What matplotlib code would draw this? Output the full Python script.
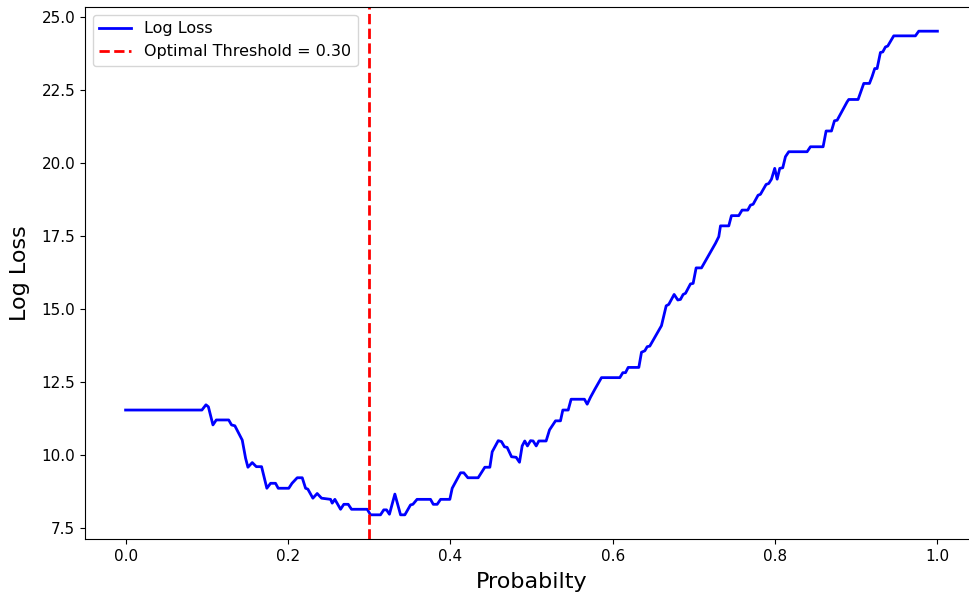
import numpy as np
import matplotlib.pyplot as plt

# vertices of the log-loss curve
prob = [0.0, 0.094, 0.099, 0.102, 0.1076, 0.1117, 0.127, 0.1305, 0.1346,
        0.1437, 0.1478, 0.1507, 0.156, 0.161, 0.1675, 0.174, 0.1786, 0.1847,
        0.188, 0.201, 0.205, 0.2114, 0.2176, 0.2217, 0.2245, 0.2307, 0.236,
        0.2414, 0.2525, 0.2545, 0.2578, 0.2648, 0.2688, 0.2742, 0.2783,
        0.2976, 0.3017, 0.314, 0.318, 0.3214, 0.325, 0.3317, 0.3387, 0.344,
        0.351, 0.3539, 0.359, 0.3756, 0.379, 0.3838, 0.388, 0.3994, 0.4023,
        0.4126, 0.4166, 0.4216, 0.4343, 0.4425, 0.4487, 0.4516, 0.459,
        0.463, 0.4667, 0.47, 0.4754, 0.4811, 0.4852, 0.4885, 0.4917, 0.495,
        0.4988, 0.502, 0.5058, 0.509, 0.518, 0.5222, 0.5296, 0.5357, 0.5386,
        0.5452, 0.5488, 0.5652, 0.5686, 0.5727, 0.578, 0.5862, 0.6088,
        0.6125, 0.6158, 0.6191, 0.6322, 0.6355, 0.6396, 0.6425, 0.6457,
        0.6601, 0.6659, 0.6691, 0.6757, 0.6802, 0.6835, 0.6868, 0.6897,
        0.6958, 0.6991, 0.7028, 0.7094, 0.7266, 0.7307, 0.7328, 0.743,
        0.7463, 0.7553, 0.7594, 0.7664, 0.7697, 0.773, 0.7791, 0.782, 0.789,
        0.7922, 0.7956, 0.7996, 0.8026, 0.8058, 0.8095, 0.8128, 0.8169,
        0.8395, 0.8436, 0.8592, 0.8629, 0.8695, 0.8732, 0.8765, 0.8888,
        0.8908, 0.9023, 0.9093, 0.9163, 0.9195, 0.9228, 0.9257, 0.9298,
        0.9327, 0.936, 0.9388, 0.9462, 0.9729, 0.977, 1.0]
log_loss = [11.54, 11.54, 11.72, 11.65, 11.03, 11.2, 11.2, 11.03, 11.0,
            10.51, 9.89, 9.58, 9.74, 9.6, 9.6, 8.86, 9.03, 9.03,
            8.86, 8.86, 9.03, 9.22, 9.22, 8.86, 8.83, 8.52, 8.68,
            8.52, 8.48, 8.35, 8.48, 8.14, 8.31, 8.31, 8.14,
            8.14, 7.95, 7.95, 8.12, 8.12, 7.97, 8.66, 7.95, 7.95,
            8.29, 8.31, 8.48, 8.48, 8.31, 8.31, 8.48, 8.48, 8.86,
            9.39, 9.39, 9.22, 9.22, 9.58, 9.58, 10.11, 10.49,
            10.46, 10.28, 10.26, 9.94, 9.92, 9.75, 10.31, 10.48, 10.31,
            10.49, 10.48, 10.31, 10.48, 10.48, 10.86, 11.17, 11.17, 11.54,
            11.54, 11.91, 11.91, 11.74, 11.98, 12.25, 12.65, 12.65,
            12.82, 12.82, 13.0, 13.0, 13.52, 13.57, 13.71, 13.73,
            14.43, 15.11, 15.16, 15.5, 15.31, 15.33, 15.5, 15.54,
            15.86, 15.88, 16.41, 16.41, 17.25, 17.48, 17.85, 17.85,
            18.2, 18.2, 18.39, 18.39, 18.56, 18.59, 18.9, 18.93, 19.27,
            19.3, 19.45, 19.82, 19.45, 19.82, 19.84, 20.22, 20.39,
            20.39, 20.56, 20.56, 21.1, 21.1, 21.45, 21.47, 22.1,
            22.18, 22.18, 22.73, 22.73, 22.96, 23.24, 23.24, 23.79,
            23.81, 23.98, 24.01, 24.36, 24.36, 24.52, 24.52]
best_threshold = 0.30

fig = plt.figure(figsize=(9.69, 5.97), dpi=100)
ax = fig.add_axes([85 / 969, 58 / 597, 893 / 969, 532 / 597])

ax.plot(prob, log_loss, color='blue', linewidth=2, label='Log Loss')
ax.axvline(best_threshold, color='red', linestyle='--', linewidth=2,
           label=f'Optimal Threshold = {best_threshold:.2f}')

ax.set_xlabel('Probabilty', fontsize=16, labelpad=6)
ax.set_ylabel('Log Loss', fontsize=16, labelpad=8)
ax.tick_params(labelsize=11)
ax.legend(fontsize=11.5, loc='upper left')

fig.savefig('out.png', dpi=100)
